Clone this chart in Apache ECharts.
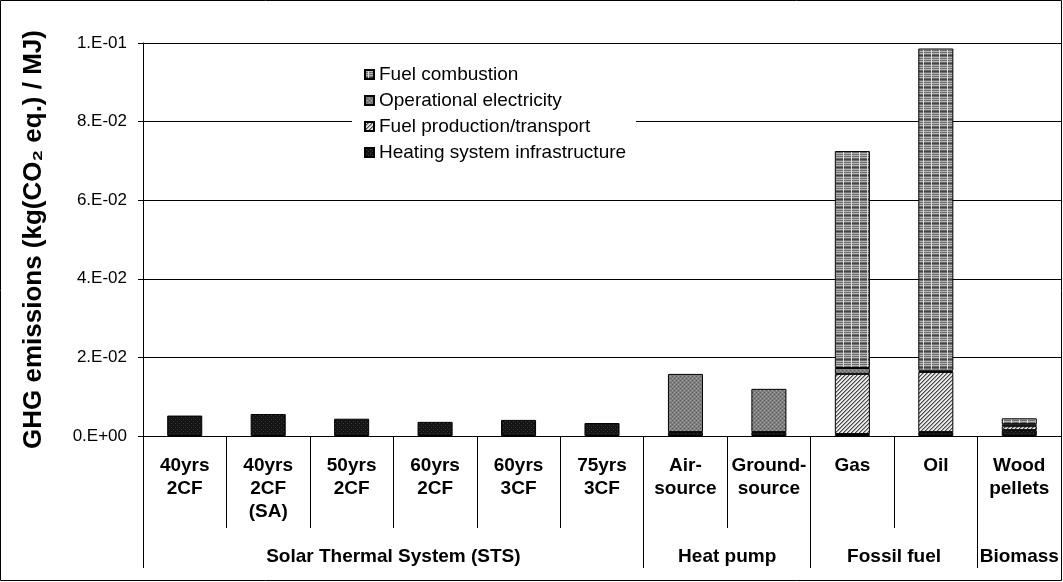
<!DOCTYPE html>
<html>
<head>
<meta charset="utf-8">
<script src="https://cdn.jsdelivr.net/npm/echarts@6/dist/echarts.min.js"></script>
<style>
html,body{margin:0;padding:0;background:#fff;}
#c{width:1063px;height:582px;}
</style>
</head>
<body>
<div id="c"></div>
<script>
var categories = ['40yrs\n2CF','40yrs\n2CF\n(SA)','50yrs\n2CF','60yrs\n2CF','60yrs\n3CF','75yrs\n3CF','Air-\nsource','Ground-\nsource','Gas','Oil','Wood\npellets'];
var groupNames = ['Solar Thermal System (STS)','Heat pump','Fossil fuel','Biomass'];
var groupCenters = [3, 7, 9, 10.5];
var groupBounds = [0, 6, 8, 10, 11];
var seriesNames = ['Heating system infrastructure','Fuel production/transport','Operational electricity','Fuel combustion'];
var infrastructure = [0.0052,0.0056,0.0044,0.0036,0.0041,0.0033,0.0010,0.0010,0.0005,0.0010,0.0015];
var fuelProduction = [0,0,0,0,0,0,0,0,0.0153,0.0153,0.0010];
var operationalElectricity = [0,0,0,0,0,0,0.0148,0.0110,0.0015,0.0003,0.0005];
var fuelCombustion = [0,0,0,0,0,0,0,0,0.0552,0.0820,0.0015];
var yTicks = {min:0, max:0.1, interval:0.02};

function tile(w,h,draw){
  var c=document.createElement('canvas'); c.width=w; c.height=h;
  var g=c.getContext('2d'); draw(g,w,h); return c;
}
var patCombustion = tile(8,8,function(g,w,h){
  g.fillStyle='#6e6e6e'; g.fillRect(0,0,w,h);
  g.fillStyle='#b4b4b4'; g.fillRect(0,1,w,1); g.fillRect(0,3,w,1); g.fillRect(0,5,w,1);
  g.fillStyle='#404040'; g.fillRect(0,7,w,1);
  g.fillStyle='#dcdcdc'; g.fillRect(3,0,1,h);
});
var patElec = tile(4,4,function(g,w,h){
  g.fillStyle='#7f7f7f'; g.fillRect(0,0,w,h);
  g.fillStyle='#5c5c5c'; g.fillRect(0,0,1,1); g.fillRect(2,2,1,1);
  g.fillStyle='#a4a4a4'; g.fillRect(2,0,1,1); g.fillRect(0,2,1,1);
});
var patProd = tile(4,4,function(g,w,h){
  for(var x=0;x<w;x++)for(var y=0;y<h;y++){
    var k=(x+y)%4;
    g.fillStyle = (k===3)?'#4a4a4a':(k===0?'#9a9a9a':'#e8e8e8');
    g.fillRect(x,y,1,1);
  }
});
var patInfra = tile(4,4,function(g,w,h){
  g.fillStyle='#141414'; g.fillRect(0,0,w,h);
  g.fillStyle='#3a3a3a'; g.fillRect(1,1,1,1); g.fillRect(3,3,1,1);
});
var patterns = [patInfra, patProd, patElec, patCombustion];
var values = [infrastructure, fuelProduction, operationalElectricity, fuelCombustion];

function expFmt(v){
  if(Math.abs(v)<1e-12) return '0.E+00';
  var e=Math.floor(Math.log10(v)+1e-9);
  var m=Math.round(v/Math.pow(10,e));
  if(m===10){m=1;e++;}
  return m+'.E'+(e<0?'-':'+')+String(Math.abs(e)).padStart(2,'0');
}

var FONT = 'Liberation Sans, Arial, sans-serif';
var series = seriesNames.map(function(n,i){
  return {
    name:n, type:'bar', stack:'total', xAxisIndex:0, yAxisIndex:0,
    barCategoryGap:'58%',
    itemStyle:{color:{image:patterns[i], repeat:'repeat'}, borderColor:'#000', borderWidth:1},
    emphasis:{disabled:true},
    data: values[i].map(function(v){return v===0?null:v;})
  };
});

var chart = echarts.init(document.getElementById('c'), null, {renderer:'canvas'});
chart.setOption({
  animation:false,
  backgroundColor:'#fff',
  textStyle:{fontFamily:FONT, color:'#000'},
  grid:{left:143, right:2, top:43, bottom:146, containLabel:false},
  legend:{
    orient:'vertical', left:352, top:59,
    data:['Fuel combustion','Operational electricity','Fuel production/transport','Heating system infrastructure'],
    backgroundColor:'#fff', padding:[6,10,6,12], itemGap:7,
    itemWidth:9, itemHeight:9, icon:'rect', selectedMode:false,
    textStyle:{fontFamily:FONT, fontSize:19, color:'#000'}
  },
  xAxis:[{
    type:'category', data:categories, position:'bottom',
    axisLine:{show:true, lineStyle:{color:'#000', width:1}},
    axisTick:{show:true, interval:0, alignWithLabel:false, length:92, lineStyle:{color:'#000'}},
    axisLabel:{interval:0, margin:18, fontFamily:FONT, fontSize:19, fontWeight:'bold', color:'#000', lineHeight:23},
    splitLine:{show:false}
  },{
    type:'value', min:0, max:11, position:'bottom',
    axisLine:{show:false},
    axisTick:{show:true, customValues:groupBounds, length:132, lineStyle:{color:'#000'}},
    axisLabel:{customValues:groupCenters, margin:111, fontFamily:FONT, fontSize:19, fontWeight:'bold', color:'#000',
      formatter:function(v){var i=groupCenters.indexOf(v); return i>=0?groupNames[i]:'';}},
    splitLine:{show:false}
  }],
  yAxis:{
    type:'value', min:yTicks.min, max:yTicks.max, interval:yTicks.interval,
    name:'GHG emissions (kg(CO\u2082 eq.) / MJ)', nameLocation:'middle', nameRotate:90, nameGap:96,
    nameTextStyle:{fontFamily:FONT, fontSize:26, fontWeight:'bold', color:'#000'},
    axisLine:{show:true, lineStyle:{color:'#000'}},
    axisTick:{show:true, inside:false, length:5, lineStyle:{color:'#000'}},
    axisLabel:{margin:16, fontFamily:FONT, fontSize:17, color:'#000', formatter:expFmt},
    splitLine:{show:true, lineStyle:{color:'#000', width:1}}
  },
  graphic:[{type:'rect', shape:{x:0.5,y:0.5,width:1061,height:580}, style:{fill:null, stroke:'#000', lineWidth:1}, silent:true, z:100}],
  series:series
});
</script>
</body>
</html>
